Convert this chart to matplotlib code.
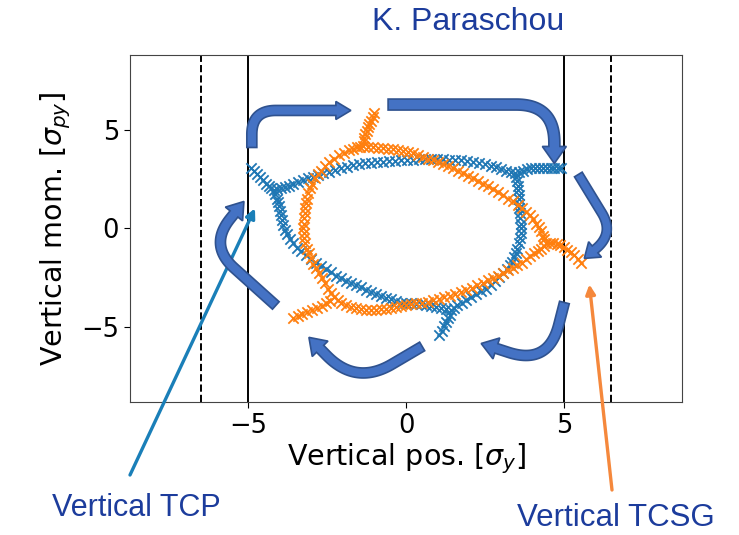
import numpy as np
import matplotlib
matplotlib.use("Agg")
import matplotlib.pyplot as plt
from matplotlib.patches import Polygon
from matplotlib.transforms import IdentityTransform

# tracked particle turns in normalised phase space (y, py)
blue_pts = [
    # left arm
    (-4.92, 3.05), (-4.83, 2.90), (-4.73, 2.74), (-4.64, 2.59), (-4.54, 2.44), (-4.45, 2.28),
    (-4.35, 2.13), (-4.27, 2.03), (-4.19, 1.93),
    # upper branch
    (-4.08, 1.98), (-3.97, 2.03), (-3.84, 2.10), (-3.71, 2.18), (-3.57, 2.26), (-3.43, 2.34),
    (-3.27, 2.44), (-3.11, 2.54), (-2.95, 2.61), (-2.79, 2.69), (-2.62, 2.79), (-2.44, 2.89),
    (-2.25, 2.97), (-2.06, 3.05), (-1.87, 3.12), (-1.68, 3.20), (-1.49, 3.25), (-1.30, 3.30),
    (-1.11, 3.33), (-0.92, 3.35), (-0.73, 3.38), (-0.54, 3.40), (-0.35, 3.43), (-0.16, 3.45),
    (0.03, 3.48), (0.22, 3.50), (0.41, 3.53), (0.60, 3.55), (0.79, 3.55), (0.98, 3.55),
    (1.18, 3.53), (1.37, 3.50), (1.56, 3.48), (1.75, 3.45), (1.94, 3.40), (2.13, 3.35),
    (2.32, 3.30), (2.51, 3.25), (2.68, 3.18), (2.86, 3.10), (3.02, 3.02), (3.17, 2.94),
    (3.32, 2.87), (3.46, 2.79),
    # right arm
    (3.59, 2.87), (3.71, 2.94), (3.84, 3.00), (3.97, 3.05), (4.10, 3.05), (4.22, 3.05),
    (4.35, 3.05), (4.48, 3.05), (4.59, 3.05), (4.70, 3.05), (4.81, 3.05), (4.92, 3.05),
    # right side going down
    (3.49, 2.59), (3.52, 2.39), (3.54, 2.16), (3.56, 1.93), (3.57, 1.70), (3.59, 1.47),
    (3.59, 1.25), (3.59, 1.02), (3.60, 0.76), (3.62, 0.51), (3.63, 0.25), (3.65, 0.00),
    (3.64, -0.25), (3.62, -0.51), (3.57, -0.76), (3.52, -1.02), (3.48, -1.25), (3.43, -1.47),
    (3.37, -1.68), (3.30, -1.88), (3.19, -2.08), (3.08, -2.28), (2.96, -2.49), (2.83, -2.69),
    (2.68, -2.87), (2.54, -3.05), (2.38, -3.20), (2.22, -3.35), (2.06, -3.50), (1.90, -3.65),
    (1.76, -3.78), (1.62, -3.91), (1.52, -4.03), (1.43, -4.16),
    # lower arm
    (1.38, -4.37), (1.33, -4.57), (1.27, -4.77), (1.21, -4.97), (1.13, -5.20), (1.05, -5.43),
    # lower-left side back up
    (1.27, -4.11), (1.11, -4.06), (0.95, -4.01), (0.79, -3.96), (0.63, -3.91), (0.48, -3.86),
    (0.32, -3.83), (0.16, -3.81), (0.00, -3.78), (-0.16, -3.76), (-0.32, -3.68), (-0.48, -3.60),
    (-0.63, -3.53), (-0.79, -3.45), (-0.95, -3.35), (-1.11, -3.25), (-1.27, -3.12), (-1.43, -2.99),
    (-1.59, -2.89), (-1.75, -2.79), (-1.90, -2.66), (-2.06, -2.54), (-2.22, -2.39), (-2.38, -2.23),
    (-2.54, -2.08), (-2.70, -1.93), (-2.86, -1.75), (-3.02, -1.57), (-3.17, -1.37), (-3.33, -1.17),
    (-3.46, -0.97), (-3.59, -0.76), (-3.69, -0.53), (-3.78, -0.30), (-3.84, -0.08), (-3.90, 0.15),
    (-3.94, 0.41), (-3.97, 0.66), (-4.00, 0.89), (-4.03, 1.12), (-4.06, 1.32), (-4.10, 1.52),
    (-4.14, 1.73),
]

orange_pts = [
    # top arm
    (-1.02, 5.84), (-1.06, 5.66), (-1.11, 5.48), (-1.16, 5.30), (-1.21, 5.13), (-1.25, 4.95),
    (-1.30, 4.77), (-1.32, 4.60), (-1.33, 4.42), (-1.37, 4.21),
    # upper-right side
    (-1.21, 4.16), (-1.05, 4.11), (-0.89, 4.09), (-0.73, 4.06), (-0.57, 4.04), (-0.41, 4.01),
    (-0.25, 3.96), (-0.10, 3.91), (0.06, 3.86), (0.22, 3.81), (0.38, 3.73), (0.54, 3.65),
    (0.70, 3.55), (0.86, 3.45), (1.02, 3.35), (1.17, 3.25), (1.33, 3.15), (1.49, 3.05),
    (1.65, 2.92), (1.81, 2.79), (1.97, 2.67), (2.13, 2.54), (2.29, 2.41), (2.44, 2.28),
    (2.60, 2.13), (2.76, 1.98), (2.92, 1.83), (3.08, 1.68), (3.24, 1.52), (3.40, 1.37),
    (3.54, 1.20), (3.68, 1.02), (3.81, 0.84), (3.94, 0.66), (4.03, 0.46), (4.13, 0.25),
    (4.21, 0.05), (4.29, -0.15), (4.33, -0.36), (4.38, -0.56), (4.44, -0.76),
    # right arm
    (4.56, -0.76), (4.67, -0.76), (4.78, -0.81), (4.89, -0.86), (5.00, -0.96), (5.11, -1.07),
    (5.22, -1.22), (5.33, -1.37), (5.44, -1.55), (5.56, -1.73),
    # lower side
    (4.37, -0.89), (4.29, -1.02), (4.17, -1.14), (4.06, -1.27), (3.94, -1.42), (3.81, -1.57),
    (3.67, -1.73), (3.52, -1.88), (3.38, -2.01), (3.24, -2.13), (3.08, -2.26), (2.92, -2.39),
    (2.76, -2.51), (2.60, -2.64), (2.43, -2.77), (2.25, -2.89), (2.08, -3.02), (1.90, -3.15),
    (1.73, -3.25), (1.56, -3.35), (1.38, -3.43), (1.21, -3.50), (1.03, -3.58), (0.86, -3.65),
    (0.68, -3.71), (0.51, -3.76), (0.33, -3.81), (0.16, -3.86), (0.00, -3.91), (-0.16, -3.96),
    (-0.32, -4.01), (-0.48, -4.06), (-0.63, -4.09), (-0.79, -4.11), (-0.95, -4.14), (-1.11, -4.16),
    (-1.27, -4.14), (-1.43, -4.11), (-1.59, -4.06), (-1.75, -4.01), (-1.90, -3.89), (-2.06, -3.76),
    (-2.17, -3.63), (-2.29, -3.50),
    # lower-left arm
    (-2.41, -3.66), (-2.54, -3.81), (-2.68, -3.94), (-2.83, -4.06), (-2.98, -4.16), (-3.14, -4.26),
    (-3.29, -4.34), (-3.43, -4.42), (-3.59, -4.57),
    # left side going up
    (-2.38, -3.27), (-2.48, -3.05), (-2.57, -2.79), (-2.67, -2.54), (-2.76, -2.28), (-2.86, -2.03),
    (-2.94, -1.78), (-3.02, -1.52), (-3.08, -1.27), (-3.14, -1.02), (-3.19, -0.76), (-3.24, -0.51),
    (-3.25, -0.25), (-3.27, 0.00), (-3.25, 0.25), (-3.24, 0.51), (-3.22, 0.76), (-3.21, 1.02),
    (-3.17, 1.27), (-3.14, 1.52), (-3.10, 1.78), (-3.05, 2.03), (-2.97, 2.28), (-2.89, 2.54),
    (-2.79, 2.74), (-2.70, 2.94), (-2.57, 3.15), (-2.44, 3.35), (-2.29, 3.53), (-2.13, 3.71),
    (-1.97, 3.83), (-1.81, 3.96), (-1.68, 4.04), (-1.56, 4.11), (-1.46, 4.16),
]

tcp_pos = 5.0     # primary collimator half gap [sigma]
tcsg_pos = 6.5    # secondary collimator half gap [sigma]
ticks = [-5, 0, 5]

# rotation arrows: (start, corner, tip) in data units + shaft/head sizes in px
flow_arrows = [
    ([(-4.89, 4.11), (-4.89, 5.99), (-1.75, 5.99)], 10, 18, 15, 24),
    ([(-0.57, 6.29), (4.70, 6.29), (4.70, 3.30)], 11, 24, 17, 38),
    ([(5.46, 2.74), (6.60, -0.25), (5.65, -1.52)], 9, 20, 14, 24),
    ([(5.02, -3.76), (4.51, -6.95), (2.38, -5.84)], 10, 22, 16, 42),
    ([(0.51, -5.99), (-1.59, -7.97), (-3.08, -5.53)], 10, 22, 16, 42),
    ([(-4.13, -3.91), (-6.25, -0.86), (-5.14, 1.37)], 10, 22, 16, 34),
]


def flow_arrow(ax, pts, width, head_w, head_len, radius):
    # thick bent arrow built as one polygon in pixel space
    start, corner, tip = ax.transData.transform(np.asarray(pts, float))
    d_in = (corner - start) / np.linalg.norm(corner - start)
    d_out = (tip - corner) / np.linalg.norm(tip - corner)
    a = corner - d_in * radius
    b = corner + d_out * radius
    t = np.linspace(0, 1, 40)[:, None]
    bend = (1 - t) ** 2 * a + 2 * (1 - t) * t * corner + t ** 2 * b
    base = tip - d_out * head_len
    # offset the bend with its analytic tangent, the straight parts with their own direction
    tang = 2 * (1 - t) * (corner - a) + 2 * t * (b - corner)
    tang /= np.linalg.norm(tang, axis=1)[:, None]
    n_in = np.array([-d_in[1], d_in[0]])
    n_out = np.array([-d_out[1], d_out[0]])
    n_bend = np.column_stack([-tang[:, 1], tang[:, 0]])
    line = np.vstack([start, bend, base])
    norm = np.vstack([n_in, n_bend, n_out])
    left = line + norm * width / 2
    right = line - norm * width / 2
    head = [base + n_out * head_w / 2, tip, base - n_out * head_w / 2]
    verts = np.vstack([left, head, right[::-1]])
    poly = Polygon(verts, closed=True, transform=IdentityTransform(),
                   facecolor="#4472C4", edgecolor="#2F528F", linewidth=1.2,
                   zorder=5, joinstyle="miter")
    ax.figure.add_artist(poly)


fig = plt.figure(figsize=(7.39, 5.35), dpi=100)
ax = fig.add_axes([0.176, 0.249, 0.747, 0.648])

blue = np.array(blue_pts)
orange = np.array(orange_pts)
ax.scatter(blue[:, 0], blue[:, 1], marker="x", s=55, linewidths=1.3, color="tab:blue", zorder=3)
ax.scatter(orange[:, 0], orange[:, 1], marker="x", s=55, linewidths=1.3, color="tab:orange", zorder=3)

for xc in (-tcp_pos, tcp_pos):
    ax.axvline(xc, color="black", lw=1.4, zorder=2)
for xc in (-tcsg_pos, tcsg_pos):
    ax.axvline(xc, color="black", lw=1.4, ls="--", zorder=2)

ax.set_xlim(-8.75, 8.75)
ax.set_ylim(-8.8, 8.8)
ax.set_xticks(ticks)
ax.set_yticks(ticks)
ax.tick_params(labelsize=18.5, length=4.5)
ax.set_xlabel(r"Vertical pos. [$\sigma_y$]", fontsize=20.5, labelpad=2)
ax.set_ylabel(r"Vertical mom. [$\sigma_{py}$]", fontsize=20.5, labelpad=6)
for sp in ax.spines.values():
    sp.set_color("#444444")

for pts, w, hw, hl, r in flow_arrows:
    flow_arrow(ax, pts, w, hw, hl, r)

# collimator callouts
note_color = "#1C3C9C"
ax.annotate("", xy=(-4.79, 1.02), xycoords="data", xytext=(130, 60), textcoords="figure pixels",
            arrowprops=dict(arrowstyle="-|>", color="#1A7FB8", lw=2.4, mutation_scale=14,
                            shrinkA=0, shrinkB=0), annotation_clip=False, zorder=6)
ax.annotate("", xy=(5.81, -2.84), xycoords="data", xytext=(612, 45), textcoords="figure pixels",
            arrowprops=dict(arrowstyle="-|>", color="#F5883C", lw=2.4, mutation_scale=14,
                            shrinkA=0, shrinkB=0), annotation_clip=False, zorder=6)

fig.text(468 / 739, 513 / 535, "K. Paraschou", ha="center", va="center",
         fontsize=23, color=note_color, family="Liberation Sans")
fig.text(136 / 739, 27 / 535, "Vertical TCP", ha="center", va="center",
         fontsize=22, color=note_color, family="Liberation Sans")
fig.text(616 / 739, 17 / 535, "Vertical TCSG", ha="center", va="center",
         fontsize=22.5, color=note_color, family="Liberation Sans")

fig.savefig("out.png", dpi=100)
